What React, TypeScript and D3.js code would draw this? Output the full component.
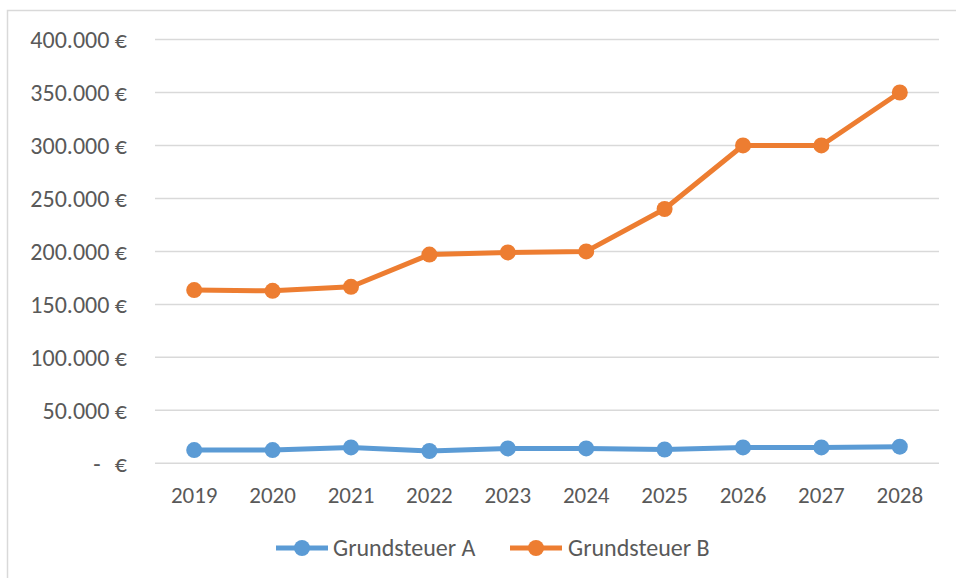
import React from "react";
import * as d3 from "d3";

const years = ["2019", "2020", "2021", "2022", "2023", "2024", "2025", "2026", "2027", "2028"];
const grundsteuerA = [12500, 12500, 15000, 11600, 14000, 14000, 13000, 15000, 15000, 15700];
const grundsteuerB = [163500, 162800, 166600, 197000, 199000, 200000, 240000, 300000, 300000, 350000];
const yTicks = [0, 50000, 100000, 150000, 200000, 250000, 300000, 350000, 400000];
const seriesNames = ["Grundsteuer A", "Grundsteuer B"];
const colors = ["#5B9BD5", "#ED7D31"];

const W = 956;
const H = 578;
const plotLeft = 155;
const plotRight = 939;
const plotTop = 39.5;
const plotBottom = 463.3;

const fmt = (v: number) => {
  const s = d3.format(",.0f")(v).replace(/,/g, ".");
  return s + " €";
};

export default function App() {
  const x = d3.scaleBand<string>().domain(years).range([plotLeft, plotRight]);
  const y = d3.scaleLinear().domain([0, 400000]).range([plotBottom, plotTop]);
  const cx = (d: string) => (x(d) as number) + x.bandwidth() / 2;
  const line = d3
    .line<number>()
    .x((_, i) => cx(years[i]))
    .y((v) => y(v));
  const series = [grundsteuerA, grundsteuerB];
  const font = "Calibri, Carlito, 'Open Sans', sans-serif";
  const legendItems = [
    { lx: 276, tx: 333 },
    { lx: 510, tx: 568 },
  ];
  const fs = 24;
  return (
    <svg
      width={W}
      height={H}
      style={{ position: "absolute", left: 0, top: 0, background: "#fff" }}
      fontFamily={font}
    >
      <rect x={7.5} y={10.5} width={W + 20} height={H + 20} fill="#fff" stroke="#d9d9d9" strokeWidth={1.5} />
      {yTicks.map((t) => (
        <g key={t}>
          <line x1={plotLeft} x2={plotRight} y1={y(t)} y2={y(t)} stroke="#d9d9d9" strokeWidth={1.5} />
          {t === 0 ? (
            <g fill="#595959" fontSize={fs}>
              <text x={97} y={y(t)} dy="0.35em" textAnchor="middle">-</text>
              <text x={127} y={y(t)} dy="0.35em" textAnchor="end">€</text>
            </g>
          ) : (
            <text x={127} y={y(t)} dy="0.35em" textAnchor="end" fill="#595959" fontSize={fs}>
              {fmt(t)}
            </text>
          )}
        </g>
      ))}
      {years.map((yr) => (
        <text key={yr} x={cx(yr)} y={495} dy="0.35em" textAnchor="middle" fill="#595959" fontSize={23}>
          {yr}
        </text>
      ))}
      {series.map((s, si) => (
        <g key={si}>
          <path d={line(s) as string} fill="none" stroke={colors[si]} strokeWidth={5} strokeLinejoin="round" />
          {s.map((v, i) => (
            <circle key={i} cx={cx(years[i])} cy={y(v)} r={8} fill={colors[si]} />
          ))}
        </g>
      ))}
      {legendItems.map((li, i) => (
        <g key={i}>
          <line x1={li.lx} x2={li.lx + 52} y1={548} y2={548} stroke={colors[i]} strokeWidth={5} />
          <circle cx={li.lx + 26} cy={548} r={8} fill={colors[i]} />
          <text x={li.tx} y={548} dy="0.35em" fill="#595959" fontSize={fs}>
            {seriesNames[i]}
          </text>
        </g>
      ))}
    </svg>
  );
}
